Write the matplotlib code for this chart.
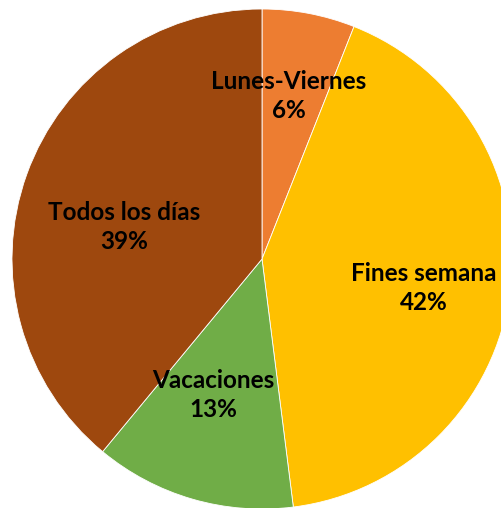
import matplotlib
matplotlib.use("Agg")
import matplotlib.pyplot as plt
import numpy as np

categories = ["Lunes-Viernes", "Fines semana", "Vacaciones", "Todos los días"]
values = [6, 42, 13, 39]
colors = ["#ED7D31", "#FFC000", "#70AD47", "#9E480E"]
label_dist = [0.661, 0.658, 0.578, 0.566]
label_shift = [1.4, -2.95, -3.6, 6.7]

W, H, dpi = 502, 508, 100
fig = plt.figure(figsize=(W / dpi, H / dpi), dpi=dpi)
cx, cy, r = 262, 259, 250
ax = fig.add_axes([(cx - r) / W, (H - cy - r) / H, 2 * r / W, 2 * r / H])
wedges, _ = ax.pie(values, colors=colors, startangle=90, counterclock=False,
                   radius=1.0, wedgeprops=dict(edgecolor="white", linewidth=0.6))
ax.set_xlim(-1, 1)
ax.set_ylim(-1, 1)
ax.set_aspect("auto")
ax.axis("off")

for w, cat, v, d, s in zip(wedges, categories, values, label_dist, label_shift):
    ang = np.deg2rad((w.theta1 + w.theta2) / 2 + s)
    x, y = d * np.cos(ang), d * np.sin(ang)
    ax.text(x, y, f"{cat}\n{v}%", ha="center", va="center", fontsize=17.5,
            fontweight="bold", family=["Lato", "DejaVu Sans"], color="black",
            linespacing=1.3, clip_on=False)

fig.savefig("out.png", dpi=dpi)
